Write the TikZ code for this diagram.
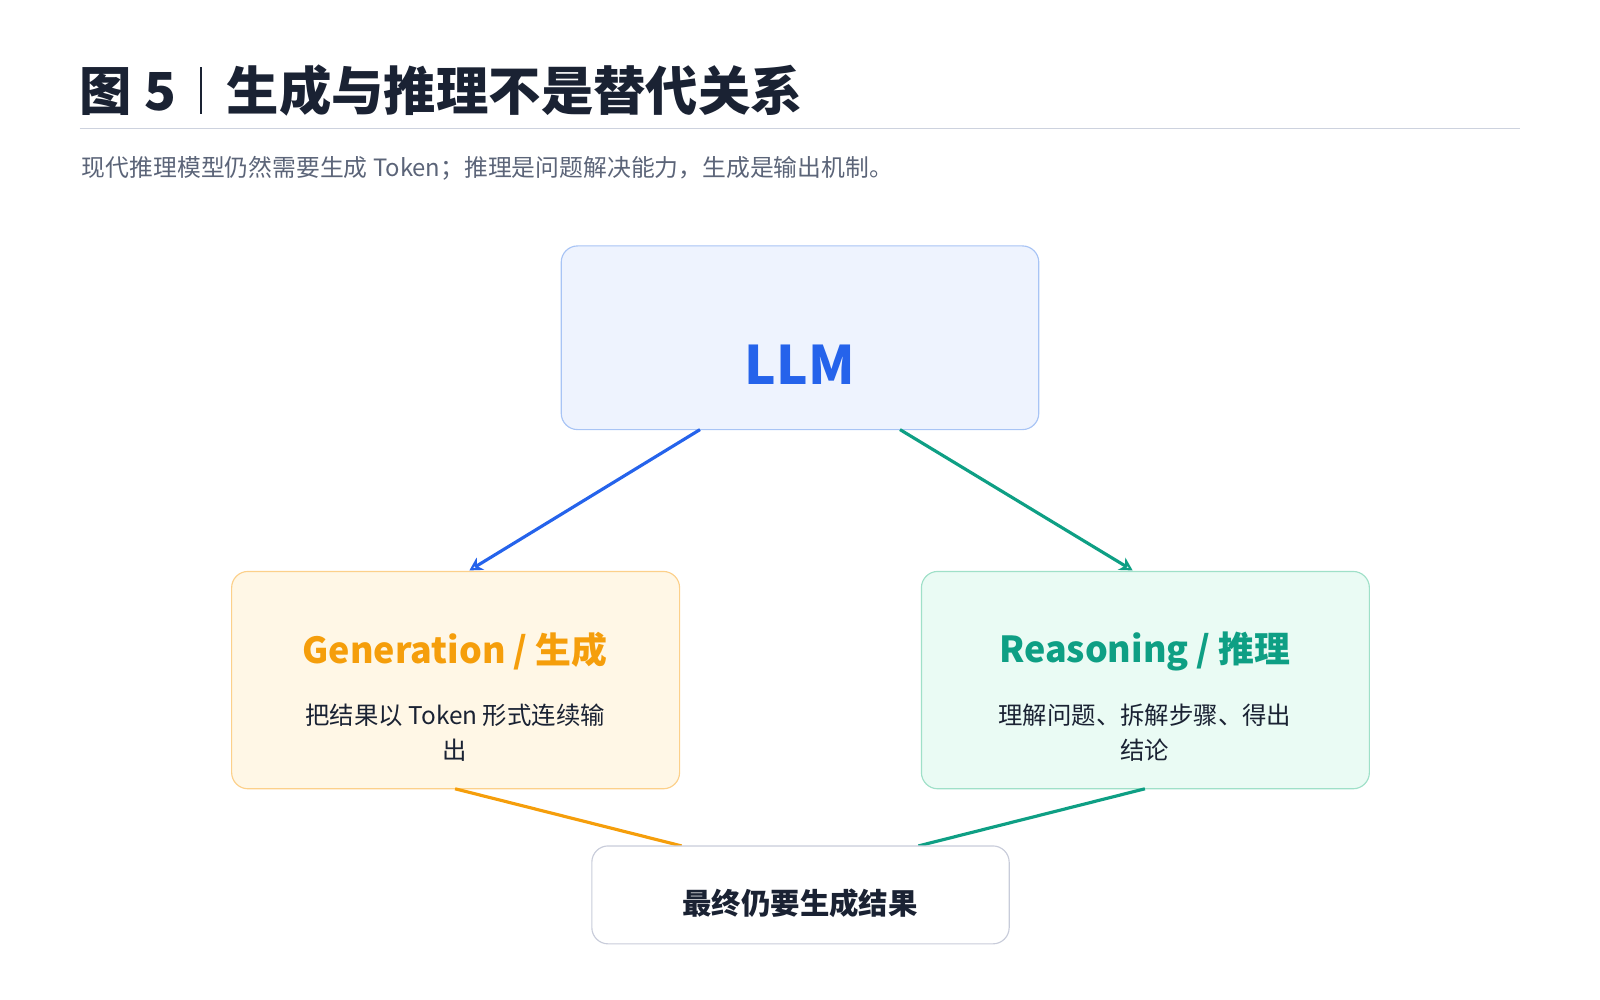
\documentclass[tikz,border=0pt]{standalone}
\usepackage{fontspec}
\setmainfont{Noto Sans CJK SC}
\usetikzlibrary{arrows.meta}
\definecolor{ink}{HTML}{1A2233}
\definecolor{subgray}{HTML}{5B6478}
\definecolor{rulegray}{HTML}{CDD2DE}
\definecolor{llmblue}{HTML}{2563EB}
\definecolor{llmfill}{HTML}{EEF3FE}
\definecolor{llmline}{HTML}{A8C4F5}
\definecolor{genorange}{HTML}{F59E0B}
\definecolor{genfill}{HTML}{FFF7E6}
\definecolor{genline}{HTML}{FCD08A}
\definecolor{reateal}{HTML}{0E9F84}
\definecolor{reafill}{HTML}{EAFBF4}
\definecolor{realine}{HTML}{9FE0C8}
\definecolor{endline}{HTML}{C8CCDA}
\tikzset{
	box/.style={draw, rounded corners=16*0.025cm, line width=.8pt, anchor=north west},
	flow/.style={line width=2.2pt, -{Stealth[open, length=9pt, width=10pt]}},
	merge/.style={line width=2.2pt}
}
\begin{document}
\begin{tikzpicture}[x=.025cm, y=-.025cm]
		\useasboundingbox (0,0) rectangle (1568,980);
		% title
		\node [anchor=base west, inner sep=0, font=\fontsize{36.5}{40}\selectfont\bfseries, text=ink] (title) at (78,108) {图 5};
		\draw [ink, line width=1pt] (197,66) -- (197,112);
		\node [anchor=base west, inner sep=0, font=\fontsize{36.5}{40}\selectfont\bfseries, text=ink] (title2) at (222,108) {生成与推理不是替代关系};
		\draw [rulegray, line width=1.2pt] (78,126) -- (1490,126);
		\node [anchor=base west, inner sep=0, font=\fontsize{16.6}{18}\selectfont, text=subgray] (sub) at (80,173) {现代推理模型仍然需要生成 Token；推理是问题解决能力，生成是输出机制。};
		% boxes
		\draw [box, draw=llmline, fill=llmfill] (550,241) rectangle (1018,421);
		\node [font=\fontsize{37}{42}\selectfont\bfseries, text=llmblue] (llm) at (784,357) {LLM};
		\draw [box, draw=genline, fill=genfill] (227,560) rectangle (666,773);
		\node [font=\fontsize{25}{30}\selectfont\bfseries, text=genorange] (gen) at (446,638) {Generation / 生成};
		\node [font=\fontsize{17}{25}\selectfont, text=ink, align=center] (gentext) at (446,718) {把结果以 Token 形式连续输\\出};
		\draw [box, draw=realine, fill=reafill] (903,560) rectangle (1342,773);
		\node [font=\fontsize{25}{30}\selectfont\bfseries, text=reateal] (rea) at (1122,638) {Reasoning / 推理};
		\node [font=\fontsize{17}{25}\selectfont, text=ink, align=center] (reatext) at (1122,718) {理解问题、拆解步骤、得出\\结论};
		% connectors
		\coordinate (llmL) at (686,421);
		\coordinate (llmR) at (882,421);
		\coordinate (genN) at (460,559);
		\coordinate (reaN) at (1110,559);
		\coordinate (genS) at (446,773);
		\coordinate (reaS) at (1122,773);
		\coordinate (endL) at (668,829);
		\coordinate (endR) at (900,829);
		\draw [flow, llmblue] (llmL) -- (genN);
		\draw [flow, reateal] (llmR) -- (reaN);
		\draw [merge, genorange] (genS) -- (endL);
		\draw [merge, reateal] (reaS) -- (endR);
		\draw [box, draw=endline, fill=white] (580,829) rectangle (989,925);
		\node [font=\fontsize{20.5}{24}\selectfont\bfseries, text=ink] (final) at (784,885) {最终仍要生成结果};
	\end{tikzpicture}
\end{document}
